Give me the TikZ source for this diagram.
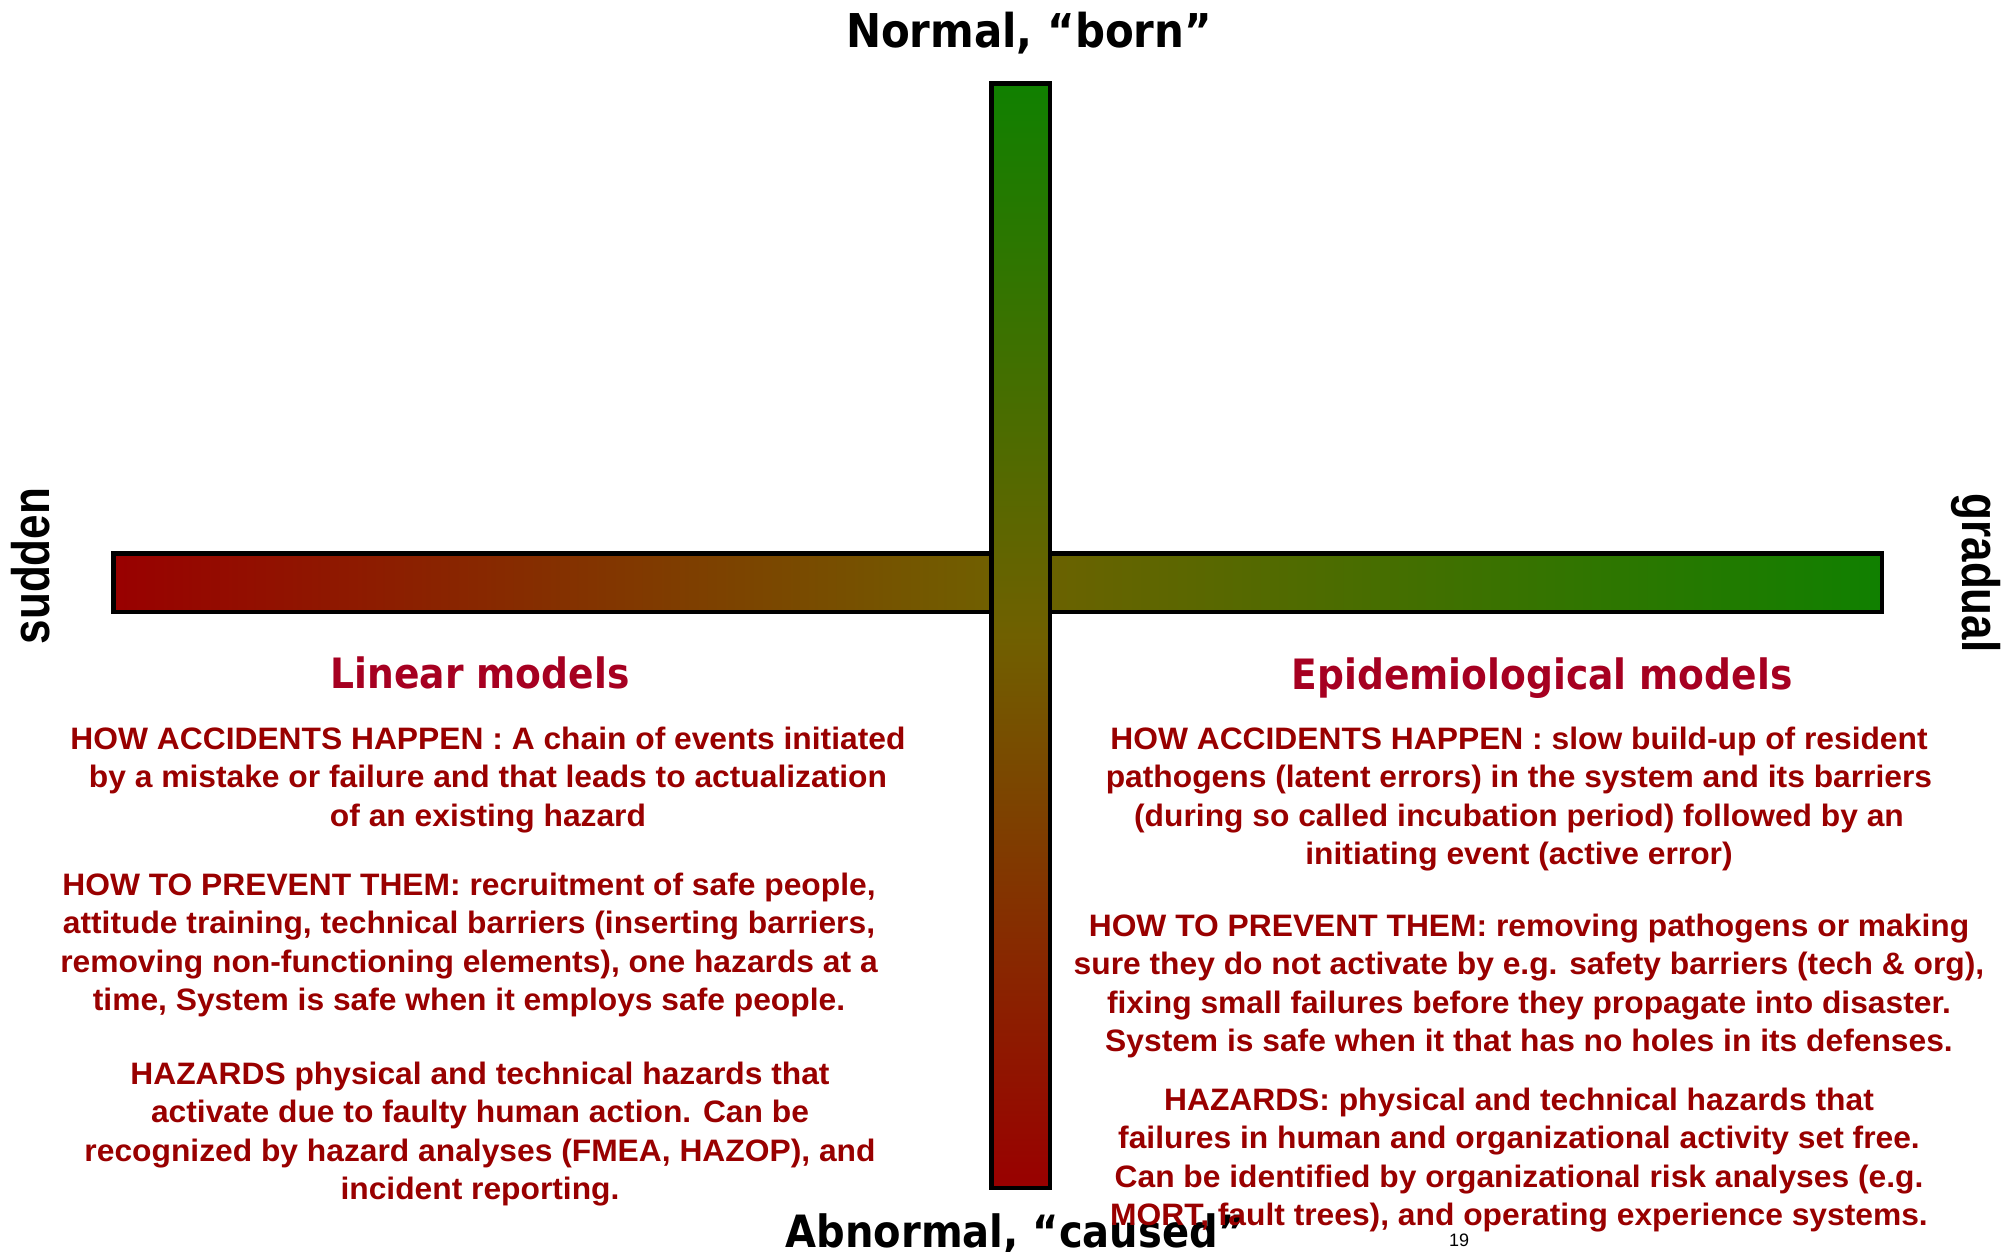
\documentclass[tikz,border=0pt]{standalone}
\usepackage{fontspec}
\usepackage{graphicx}
% faces: bold body text, narrow bold headings
\newfontface\bodyfont[FakeStretch=1.025]{Liberation Sans Bold}
\newfontface\headfont[FakeStretch=0.9]{DejaVu Sans Bold}
\newfontface\sidefont{Liberation Sans Bold}
\newfontface\pagefont{Liberation Sans}
\definecolor{barred}{RGB}{153,0,0}
\definecolor{bargreen}{RGB}{16,128,0}
\definecolor{barmid}{RGB}{112,96,0}
\definecolor{txtred}{RGB}{153,0,0}
\definecolor{titlered}{RGB}{166,0,33}
\begin{document}
\begin{tikzpicture}[x=1pt,y=1pt,
  bar/.style={draw=black, line width=4.5pt, inner sep=0pt, outer sep=0pt},
  body/.style={text=txtred, align=center, font=\fontsize{31}{38.4}\bodyfont, inner sep=0pt},
  modeltitle/.style={text=titlered, font=\fontsize{41.8}{50}\headfont, anchor=base, inner sep=0pt},
  axislabel/.style={text=black, anchor=base, inner sep=0pt},
  side/.style={text=black, font=\fontsize{44}{50}\sidefont, inner sep=0pt}]
\useasboundingbox (0,0) rectangle (2005,-1251);
\clip (0,0) rectangle (2005,-1251);

% the two axes: sudden -> gradual, abnormal -> normal
\node[bar, minimum width=1768.5pt, minimum height=58.5pt,
      left color=barred, right color=bargreen, middle color=barmid] (hbar) at (997.5,-582.5) {};
\node[bar, minimum width=58.5pt, minimum height=1104.5pt,
      top color=bargreen, bottom color=barred, middle color=barmid] (vbar) at (1020.5,-635.5) {};

% axis end labels
\node[axislabel, font=\fontsize{46.6}{56}\headfont] (normal) at (1029,-47) {Normal, “born”};
\node[axislabel, font=\fontsize{44.5}{54}\headfont] (abnormal) at (1015,-1247) {Abnormal, “caused”};
\node[side, rotate=90] (sudden) at (31,-566) {\scalebox{1}[1.2]{sudden}};
\node[side, rotate=-90] (gradual) at (1976,-573) {\scalebox{1}[1.2]{gradual}};

% left quadrant: linear models
\node[modeltitle] (lintitle) at (480,-688) {Linear models};
\node[body] (linhow) at (488,-780) {HOW ACCIDENTS HAPPEN : A chain of events initiated\\
  by a mistake or failure and that leads to actualization\\
  of an existing hazard};
\node[body] (linprev) at (469,-945) {HOW TO PREVENT THEM: recruitment of safe people,\\
  attitude training, technical barriers (inserting barriers,\\
  removing non-functioning elements), one hazards at a\\
  time, System is safe when it employs safe people.};
\node[body] (linhaz) at (480,-1134) {HAZARDS physical and technical hazards that\\
  activate due to faulty human action. Can be\\
  recognized by hazard analyses (FMEA, HAZOP), and\\
  incident reporting.};

% right quadrant: epidemiological models
\node[modeltitle] (epititle) at (1542,-689) {Epidemiological models};
\node[body] (epihow) at (1519,-799) {HOW ACCIDENTS HAPPEN : slow build-up of resident\\
  pathogens (latent errors) in the system and its barriers\\
  (during so called incubation period) followed by an\\
  initiating event (active error)};
\node[body] (epiprev) at (1529,-986) {HOW TO PREVENT THEM: removing pathogens or making\\
  sure they do not activate by e.g. safety barriers (tech \& org),\\
  fixing small failures before they propagate into disaster.\\
  System is safe when it that has no holes in its defenses.};
\node[body] (epihaz) at (1519,-1160) {HAZARDS: physical and technical hazards that\\
  failures in human and organizational activity set free.\\
  Can be identified by organizational risk analyses (e.g.\\
  MORT, fault trees), and operating experience systems.};

% page number
\node[font=\fontsize{18}{20}\pagefont, inner sep=0pt] (pnum) at (1459,-1240) {19};
\end{tikzpicture}
\end{document}
